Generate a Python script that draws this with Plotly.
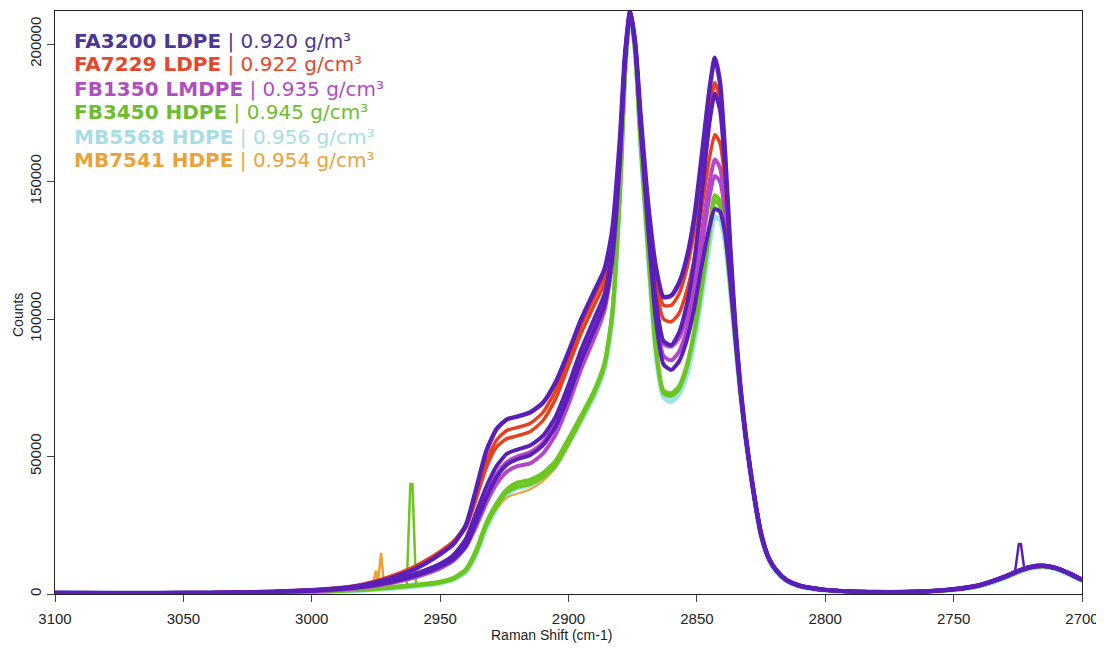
import plotly.graph_objects as go

# ---- data ----
shift = [3100, 3080, 3060, 3040, 3020, 3010, 3000, 2990, 2980, 2970,
         2960, 2955, 2950, 2945, 2940, 2936, 2932, 2928, 2924, 2920,
         2915, 2910, 2905, 2900, 2895, 2890, 2886, 2883, 2880, 2878,
         2876, 2874, 2872, 2869, 2866, 2863, 2860, 2857, 2854, 2851,
         2848, 2845, 2843, 2841, 2839, 2837, 2835, 2833, 2831, 2829,
         2827, 2825, 2822, 2819, 2815, 2810, 2800, 2790, 2780, 2770,
         2760, 2750, 2740, 2730, 2725, 2720, 2715, 2710, 2705, 2700]

fa3200_a = [500, 400, 400, 500, 700, 1000, 1400, 2000, 3200, 5500,
            9000, 11500, 14500, 18000, 25000, 38000, 52000, 60000, 63500, 64500,
            66000, 69500, 77000, 88000, 100000, 110000, 118000, 132000, 165000, 196000,
            212000, 200000, 175000, 142000, 119000, 108000, 108500, 113000, 122000, 137000,
            160000, 184000, 195000, 186000, 160000, 126000, 97000, 75000, 58000, 44000,
            32000, 22000, 13000, 8500, 5000, 3000, 1500, 900, 700, 700,
            1000, 1700, 3200, 6300, 8300, 9800, 10300, 9400, 7500, 5200]
fa3200_b = [500, 400, 400, 500, 700, 1000, 1300, 1800, 2800, 4600,
            7300, 9000, 11000, 14000, 20000, 29500, 39000, 46500, 51000, 52500,
            54000, 57500, 64500, 76000, 89000, 100000, 109000, 125000, 160000, 195000,
            212000, 200000, 173000, 137000, 107000, 92000, 90500, 95000, 105000, 121000,
            146000, 172000, 182000, 176000, 155000, 124000, 96000, 74500, 57500, 44000,
            32000, 22000, 13000, 8500, 5000, 3000, 1500, 900, 700, 700,
            1000, 1700, 3200, 6200, 8200, 9700, 10200, 9300, 7400, 5100]
fa3200_c = [400, 300, 300, 400, 600, 900, 1200, 1700, 2600, 4200,
            6500, 8000, 10000, 12500, 17500, 26000, 35000, 42500, 47000, 49000,
            50500, 54000, 61000, 72000, 85000, 96000, 105000, 122000, 158000, 194000,
            212000, 199000, 171000, 133000, 100000, 83500, 81500, 84500, 92000, 104000,
            120000, 134000, 140000, 139000, 131000, 114000, 93000, 73500, 57000, 43500,
            31500, 21500, 13000, 8500, 5000, 3000, 1500, 900, 700, 700,
            1000, 1700, 3200, 6400, 8400, 9900, 10400, 9500, 7600, 5300]
fa7229_a = [500, 400, 400, 500, 700, 1000, 1500, 2200, 3600, 6200,
            10000, 12500, 15500, 19000, 25000, 36000, 48000, 56000, 59500, 60500,
            62000, 66000, 74000, 86000, 98000, 108000, 116000, 130000, 164000, 196000,
            212000, 200000, 174000, 140000, 116000, 105000, 105000, 109000, 118000, 132000,
            153000, 176000, 186000, 180000, 158000, 125000, 97000, 75000, 58000, 44000,
            32000, 22000, 13000, 8500, 5000, 3000, 1500, 900, 700, 700,
            1000, 1700, 3200, 6300, 8300, 9800, 10300, 9400, 7500, 5200]
fa7229_b = [500, 400, 400, 500, 700, 1000, 1500, 2100, 3400, 5900,
            9500, 12000, 15000, 18500, 24000, 34500, 46000, 53500, 56500, 57500,
            59000, 63000, 71000, 83000, 95000, 105000, 113000, 128000, 163000, 195000,
            212000, 200000, 173000, 139000, 112000, 100000, 99000, 102000, 110000, 122000,
            141000, 159000, 167000, 164000, 149000, 121000, 95000, 74000, 57500, 44000,
            32000, 22000, 13000, 8500, 5000, 3000, 1500, 900, 700, 700,
            1000, 1700, 3200, 6300, 8300, 9800, 10300, 9400, 7500, 5200]
fb1350_a = [400, 300, 300, 400, 600, 800, 1100, 1600, 2500, 4200,
            6800, 8500, 10500, 13500, 19000, 27000, 36000, 43500, 48000, 50000,
            51500, 55000, 62000, 73000, 86000, 97000, 106000, 122000, 158000, 194000,
            212000, 199000, 172000, 136000, 106000, 91000, 90000, 93000, 101000, 114000,
            132000, 150000, 158000, 155000, 142000, 118000, 95000, 74000, 57500, 44000,
            32000, 22000, 13000, 8500, 5000, 3000, 1500, 900, 700, 700,
            1000, 1700, 3100, 6200, 8200, 9700, 10200, 9300, 7400, 5100]
fb1350_b = [400, 300, 300, 400, 600, 800, 1000, 1500, 2300, 3800,
            6000, 7500, 9300, 12000, 17000, 24500, 33000, 40000, 44500, 46500,
            47500, 51000, 58000, 69000, 82000, 93000, 103000, 120000, 157000, 193000,
            212000, 199000, 171000, 134000, 102000, 86500, 85000, 88000, 96000, 109000,
            127000, 145000, 152000, 150000, 139000, 116000, 94000, 73500, 57000, 43500,
            31500, 21500, 13000, 8500, 5000, 3000, 1500, 900, 700, 700,
            1000, 1700, 3100, 6200, 8200, 9700, 10200, 9300, 7400, 5100]
fb3450_a = [300, 200, 200, 300, 400, 600, 800, 1200, 1700, 2500,
            3300, 3800, 4500, 5800, 9000, 16000, 26000, 33000, 38000, 40500,
            41500, 44000, 48500, 56500, 65000, 74000, 84000, 102000, 146000, 190000,
            212000, 197000, 166000, 126000, 90000, 74000, 73000, 75500, 83000, 96000,
            114000, 134000, 145000, 143000, 132000, 113000, 92000, 73000, 57000, 43500,
            31500, 21500, 13000, 8500, 5000, 3000, 1500, 900, 700, 700,
            1000, 1600, 3000, 6000, 8000, 9500, 10000, 9200, 7300, 5000]
fb3450_b = [300, 200, 200, 300, 400, 500, 700, 1100, 1500, 2200,
            3000, 3500, 4200, 5400, 8500, 15000, 25000, 32000, 37000, 39000,
            40000, 42500, 47000, 55000, 64000, 73000, 83000, 101000, 145000, 189000,
            212000, 197000, 165000, 125000, 89000, 73000, 72000, 74500, 82000, 95000,
            112000, 132000, 143000, 141000, 131000, 112000, 92000, 73000, 57000, 43500,
            31500, 21500, 13000, 8500, 5000, 3000, 1500, 900, 700, 700,
            1000, 1600, 3000, 6000, 8000, 9500, 10000, 9200, 7300, 5000]
mb5568 = [300, 200, 200, 300, 400, 500, 700, 1000, 1400, 2000,
          2800, 3300, 4000, 5200, 8000, 14500, 24000, 31000, 36000, 38500,
          39500, 42000, 46500, 54500, 63000, 72000, 82000, 100000, 145000, 189000,
          212000, 197000, 165000, 124000, 88000, 71500, 70000, 72500, 79500, 92000,
          109000, 128000, 137000, 136000, 128000, 111000, 91000, 72500, 56500, 43000,
          31000, 21000, 12500, 8000, 4800, 2800, 1400, 800, 600, 600,
          900, 1500, 2900, 5800, 7800, 9300, 9800, 9000, 7100, 4800]
mb7541 = [300, 200, 200, 300, 400, 600, 900, 1300, 2000, 2600,
          3200, 3600, 4200, 5400, 8500, 15000, 24500, 31000, 35000, 36500,
          38000, 41000, 46000, 54000, 63000, 72500, 83000, 101000, 145000, 189000,
          212000, 197000, 165000, 125000, 89000, 73000, 72000, 74500, 81500, 94000,
          111000, 131000, 140000, 139000, 130000, 112000, 92000, 73000, 57000, 43500,
          31500, 21500, 13000, 8500, 5000, 3000, 1500, 900, 700, 700,
          1000, 1600, 3000, 6000, 8000, 9500, 10000, 9200, 7300, 5000]

# narrow cosmic-ray spikes
spike_green_x = [2963.0, 2961.6, 2960.8, 2959.4]
spike_green_y = [3500, 40000, 40000, 3300]
spike_green2_x = [2974.0, 2972.5, 2971.0]
spike_green2_y = [2400, 5500, 2400]
spike_orange_x = [2976.5, 2975.0, 2974.2, 2973.0, 2971.8]
spike_orange_y = [2200, 8500, 4500, 15000, 2400]
spike_purple_x = [2726.0, 2724.6, 2723.8, 2722.5]
spike_purple_y = [8700, 18200, 18200, 9300]

legend_names = ["FA3200 LDPE", "FA7229 LDPE", "FB1350 LMDPE",
                "FB3450 HDPE", "MB5568 HDPE", "MB7541 HDPE"]
legend_density = ["0.920 g/m³", "0.922 g/cm³", "0.935 g/cm³",
                  "0.945 g/cm³", "0.956 g/cm³", "0.954 g/cm³"]

x_ticks = [3100, 3050, 3000, 2950, 2900, 2850, 2800, 2750, 2700]
y_ticks = [0, 50000, 100000, 150000, 200000]

# ---- styles ----
C_PURPLE = "#5A1FB8"
C_RED = "#E8401E"
C_MAGENTA = "#B446C8"
C_GREEN = "#6CC620"
C_CYAN = "#A0E2EC"
C_ORANGE = "#F0A030"
legend_colors = ["#4B3794", "#E4472B", "#B04FC0", "#6DBE2E", "#A9DDE6", "#E9A33A"]

# page body has an 8px margin: work in reference pixels, shift by OFF
OFF = 8
W, H = 1104 - OFF, 648 - OFF
ML, MR, MT, MB = 55 - OFF, 22, 11 - OFF, 54

fig = go.Figure()

def add_line(x, y, color, width, shape="spline"):
    fig.add_trace(go.Scatter(
        x=x, y=y, mode="lines",
        line=dict(color=color, width=width, shape=shape, smoothing=0.6),
        showlegend=False, hoverinfo="skip"))

# draw order: lower bundle first, purple last
add_line(shift, mb5568, C_CYAN, 5)
add_line(shift, mb7541, C_ORANGE, 2)
add_line(shift, fb3450_b, C_GREEN, 4)
add_line(shift, fb3450_a, C_GREEN, 4)
add_line(spike_green_x, spike_green_y, C_GREEN, 2.5, "linear")
add_line(spike_green2_x, spike_green2_y, C_GREEN, 2, "linear")
add_line(spike_orange_x, spike_orange_y, C_ORANGE, 2.5, "linear")
add_line(shift, fb1350_b, C_MAGENTA, 4)
add_line(shift, fb1350_a, C_MAGENTA, 4)
add_line(shift, fa7229_b, C_RED, 3.5)
add_line(shift, fa7229_a, C_RED, 3.5)
add_line(shift, fa3200_c, C_PURPLE, 4)
add_line(shift, fa3200_b, C_PURPLE, 4)
add_line(shift, fa3200_a, C_PURPLE, 4.5)
add_line(spike_purple_x, spike_purple_y, C_PURPLE, 2.5, "linear")

plot_h = H - MT - MB
plot_w = W - ML - MR

def ref_y(py):
    return (H - MB - (py - OFF)) / plot_h

def ref_x(px):
    return ((px - OFF) - ML) / plot_w

annotations = []
row_y = [40.5, 64.5, 88.5, 112.5, 136.5, 160.5]
for name, dens, col, py in zip(legend_names, legend_density, legend_colors, row_y):
    annotations.append(dict(
        xref="paper", yref="paper", x=ref_x(72), y=ref_y(py),
        xanchor="left", yanchor="middle", showarrow=False,
        text=f"<b>{name}</b> | {dens}",
        font=dict(family="DejaVu Sans", size=20, color=col)))

annotations.append(dict(
    xref="paper", yref="paper", x=ref_x(551), y=ref_y(635),
    xanchor="center", yanchor="middle", showarrow=False,
    text="Raman Shift (cm-1)",
    font=dict(family="Liberation Sans", size=14, color="#222")))
annotations.append(dict(
    xref="paper", yref="paper", x=ref_x(18), y=ref_y(315),
    xanchor="center", yanchor="middle", showarrow=False, textangle=-90,
    text="Counts",
    font=dict(family="Liberation Sans", size=14, color="#222")))

axis_common = dict(
    showgrid=False, zeroline=False, showline=True, mirror=True,
    linecolor="#222", linewidth=1.2, ticks="outside", ticklen=7,
    tickcolor="#444", tickwidth=1,
    tickfont=dict(family="Liberation Sans", size=15, color="#222"),
)

fig.update_layout(
    width=W, height=H,
    margin=dict(l=ML, r=MR, t=MT, b=MB),
    paper_bgcolor="white", plot_bgcolor="white",
    showlegend=False,
    annotations=annotations,
    xaxis=dict(range=[3100, 2700], tickvals=x_ticks, ticklabelstandoff=4,
               ticktext=[str(v) for v in x_ticks], **axis_common),
    yaxis=dict(range=[0, 212000], tickvals=y_ticks,
               ticktext=[str(v) for v in y_ticks], tickangle=-90, **axis_common),
)

fig.write_html("out.html")
